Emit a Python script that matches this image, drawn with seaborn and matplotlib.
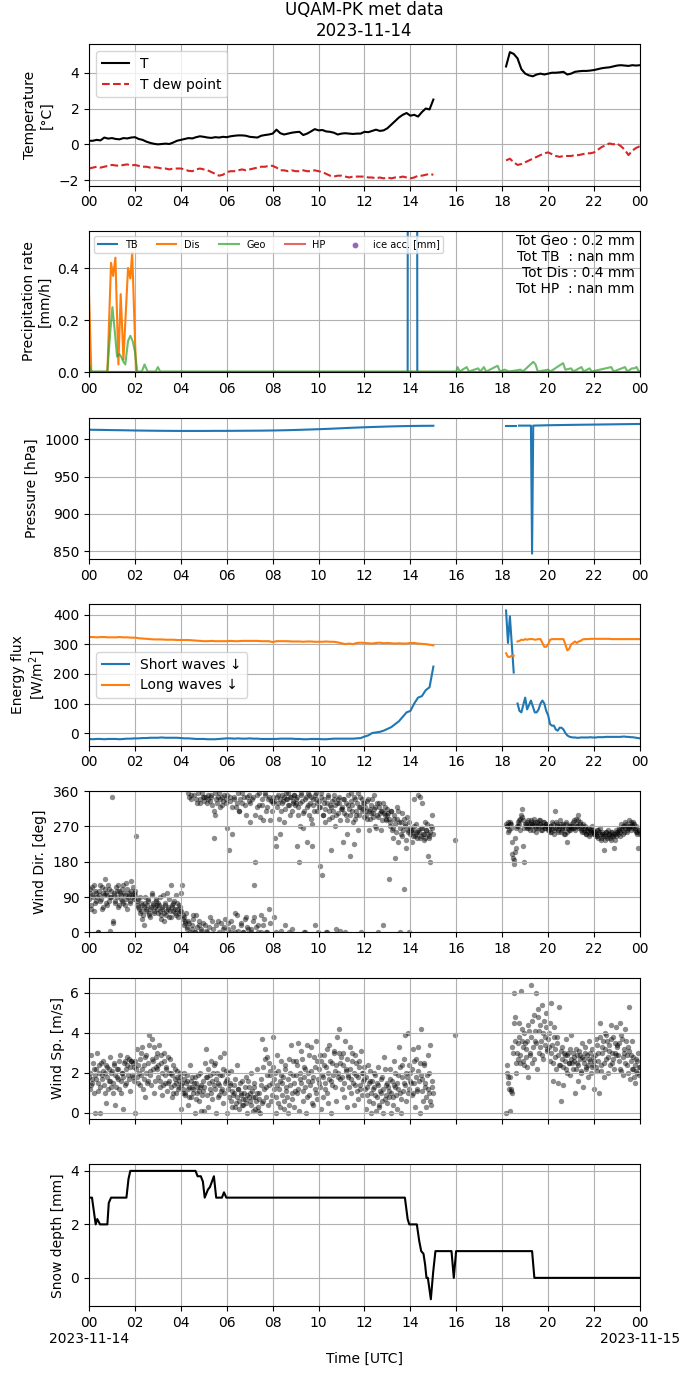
import numpy as np
import pandas as pd
import matplotlib
matplotlib.use("Agg")
import matplotlib.pyplot as plt
import seaborn as sns

DAY = pd.Timestamp("2023-11-14 00:00")
DAY_END = DAY + pd.Timedelta(days=1)

# temperature, 10 min steps, 00:00-15:00 and 18:10-24:00
t_day = [0.20, 0.20, 0.25, 0.22, 0.38, 0.32,
         0.35, 0.30, 0.28, 0.35, 0.33, 0.38,
         0.40, 0.30, 0.25, 0.15, 0.08, 0.03,
         0.00, 0.02, 0.04, 0.02, 0.10, 0.20,
         0.25, 0.30, 0.35, 0.33, 0.40, 0.45,
         0.42, 0.38, 0.36, 0.40, 0.38, 0.42,
         0.40, 0.45, 0.48, 0.50, 0.50, 0.48,
         0.42, 0.40, 0.38, 0.48, 0.52, 0.55,
         0.60, 0.82, 0.62, 0.55, 0.60, 0.65,
         0.68, 0.70, 0.52, 0.60, 0.72, 0.85,
         0.78, 0.80, 0.72, 0.70, 0.65, 0.55,
         0.60, 0.62, 0.60, 0.58, 0.60, 0.60,
         0.70, 0.68, 0.75, 0.82, 0.75, 0.78,
         0.90, 1.10, 1.30, 1.50, 1.65, 1.75,
         1.60, 1.65, 1.55, 1.80, 2.00, 1.95,
         2.50]
t_eve = [4.35, 5.15, 5.05, 4.80, 4.20,
         3.95, 3.85, 3.80, 3.90, 3.95, 3.90,
         3.95, 4.00, 4.00, 4.02, 4.05, 3.90,
         3.95, 4.05, 4.08, 4.10, 4.10, 4.12,
         4.15, 4.20, 4.25, 4.28, 4.30, 4.35,
         4.40, 4.42, 4.40, 4.38, 4.42, 4.40,
         4.42]
td_day = [-1.35, -1.30, -1.25, -1.30, -1.25, -1.20,
          -1.15, -1.18, -1.20, -1.15, -1.12, -1.18,
          -1.15, -1.20, -1.25, -1.25, -1.30, -1.28,
          -1.30, -1.35, -1.35, -1.40, -1.35, -1.35,
          -1.35, -1.40, -1.48, -1.50, -1.40, -1.35,
          -1.40, -1.45, -1.55, -1.65, -1.75, -1.70,
          -1.55, -1.50, -1.50, -1.45, -1.40, -1.45,
          -1.40, -1.35, -1.30, -1.25, -1.25, -1.20,
          -1.20, -1.30, -1.45, -1.45, -1.50, -1.45,
          -1.50, -1.50, -1.45, -1.50, -1.50, -1.45,
          -1.50, -1.55, -1.65, -1.75, -1.80, -1.75,
          -1.75, -1.80, -1.85, -1.80, -1.80, -1.80,
          -1.80, -1.85, -1.85, -1.90, -1.85, -1.90,
          -1.85, -1.90, -1.85, -1.85, -1.80, -1.85,
          -1.90, -1.85, -1.75, -1.75, -1.70, -1.65,
          -1.70]
td_eve = [-0.90, -0.80, -1.00, -1.15, -1.10,
          -1.00, -0.90, -0.80, -0.70, -0.60, -0.50,
          -0.45, -0.55, -0.65, -0.70, -0.65, -0.65,
          -0.65, -0.60, -0.60, -0.55, -0.50, -0.50,
          -0.45, -0.30, -0.15, -0.05, 0.05, 0.00,
          0.05, -0.10, -0.30, -0.60, -0.35, -0.20,
          -0.10]

# precipitation rate [mm/h], given at hours of the day
dis_hours = [0, 0.1, 0.8, 0.96, 1.05, 1.15, 1.28, 1.38, 1.5, 1.7, 1.8, 1.88, 2.05, 24]
dis_rate = [0.3, 0, 0, 0.42, 0.37, 0.44, 0.03, 0.30, 0.05, 0.40, 0.36, 0.46, 0, 0]
geo_hours = [0, 0.1, 0.8, 0.92, 1.02, 1.12, 1.22, 1.32, 1.4, 1.5, 1.58, 1.7, 1.8, 1.9,
             2.0, 2.1, 2.3, 2.42, 2.55, 2.9, 3.0, 3.1, 16.0, 16.05, 16.15, 16.45, 16.55,
             16.95, 17.05, 17.2, 17.3, 17.8, 17.9, 18.1, 18.3, 18.8, 18.9, 19.35, 19.45,
             19.55, 20.0, 20.1, 20.65, 20.75, 21.0, 21.1, 21.45, 21.55, 21.8, 21.9, 22.75,
             22.85, 23.35, 23.45, 23.65, 23.75, 23.85, 23.95, 24.0]
geo_rate = [0.03, 0.003, 0.003, 0.15, 0.25, 0.16, 0.06, 0.07, 0.06, 0.04, 0.03, 0.12, 0.14, 0.12,
            0.08, 0.003, 0.003, 0.03, 0.003, 0.003, 0.02, 0.003, 0.003, 0.02, 0.003, 0.02, 0.003,
            0.015, 0.003, 0.02, 0.003, 0.025, 0.003, 0.01, 0.003, 0.01, 0.003, 0.04, 0.03,
            0.003, 0.01, 0.003, 0.035, 0.01, 0.015, 0.003, 0.02, 0.003, 0.015, 0.003, 0.02,
            0.003, 0.02, 0.003, 0.015, 0.015, 0.02, 0.003, 0.003]
tb_hours = [0, 2.0, np.nan, 13.88, 13.9, 14.28, 14.3]
tb_rate = [0, 0, np.nan, 0, 3.0, 3.0, 0]
hp_hours = [0, 24]
hp_rate = [0, 0]
totals_text = "Tot Geo : 0.2 mm\nTot TB  : nan mm\nTot Dis : 0.4 mm\nTot HP  : nan mm"

# pressure [hPa]
press_day = [1012.5, 1012.3, 1012.0, 1011.8, 1011.5, 1011.3, 1011.1, 1011.0, 1010.9, 1010.9,
             1010.9, 1011.0, 1011.0, 1011.1, 1011.2, 1011.3, 1011.5, 1011.8, 1012.2, 1012.7,
             1013.2, 1013.8, 1014.5, 1015.2, 1015.8, 1016.3, 1016.8, 1017.2, 1017.5, 1017.7,
             1017.8]
press_eve_hours = [18.17, 18.6, np.nan, 18.73, 19.25, 19.3, 19.35, 20.0, 21.0, 22.0, 23.0, 24.0]
press_eve = [1018, 1018, np.nan, 1018, 1018, 847, 1018, 1018.5, 1019, 1019.4, 1019.8, 1020.2]

# radiation [W/m2], 10 min day, 5 min evening from 18:10
sw_day = [-20, -21, -20, -20, -21, -20,
          -20, -20, -21, -20, -19, -19,
          -18, -18, -17, -17, -16, -16,
          -16, -15, -16, -16, -16, -16,
          -17, -18, -18, -19, -20, -20,
          -20, -21, -21, -21, -20, -19,
          -18, -18, -19, -18, -19, -19,
          -18, -19, -19, -20, -20, -20,
          -20, -20, -19, -19, -19, -19,
          -20, -20, -21, -21, -20, -20,
          -20, -21, -21, -20, -19, -19,
          -19, -19, -19, -19, -18, -17,
          -12, -8, 0, 2, 4, 8,
          14, 20, 30, 40, 55, 70,
          75, 100, 120, 125, 145, 155,
          225]
lw_day = [325, 325, 324, 325, 325, 324,
          324, 324, 325, 324, 324, 323,
          323, 321, 320, 319, 318, 317,
          317, 317, 316, 316, 316, 315,
          315, 315, 315, 314, 313, 312,
          311, 311, 312, 311, 311, 311,
          311, 312, 311, 311, 312, 312,
          312, 312, 312, 311, 311, 311,
          308, 311, 311, 311, 311, 310,
          310, 310, 309, 310, 310, 309,
          309, 309, 310, 309, 309, 307,
          304, 301, 303, 301, 305, 306,
          305, 304, 303, 305, 306, 304,
          305, 304, 303, 304, 303, 303,
          305, 305, 303, 302, 301, 299,
          297]
sw_eve = [415, 305, 395, 300, 205, np.nan, 100, 75, 70, 95,
          120, 80, 95, 110, 90, 70, 70, 80, 100, 110, 100, 75,
          60, 30, 25, 25, 12, 8, 18, 18, 12, 0, -8, -12,
          -14, -15, -15, -16, -16, -15, -15, -15, -15, -15, -14, -15,
          -15, -15, -14, -14, -14, -14, -13, -13, -13, -13, -13, -13,
          -13, -13, -13, -12, -12, -13, -13, -14, -14, -15, -16, -17,
          -18]
lw_eve = [270, 258, 258, 262, 262, np.nan, 310, 312, 316, 315,
          318, 316, 318, 318, 318, 316, 317, 318, 318, 305, 292, 292,
          300, 316, 318, 318, 318, 318, 318, 318, 318, 300, 280, 285,
          300, 305, 310, 305, 310, 312, 317, 318, 318, 318, 319, 319,
          319, 319, 319, 319, 319, 319, 319, 319, 319, 318, 318, 318,
          318, 318, 318, 318, 318, 318, 318, 318, 318, 318, 318, 318,
          318]

# wind, two interleaved 3 min series (a at :00, b at +1.5 min)
# day 00:00-15:00, one sample at 15:57, evening from 18:10
wdir_day = [85, 110, 60, 95, 120, 75, 100, 90, 2, 105, 80, 115, 65, 95, 135, 100, 70, 110, 5, 90,
            345, 30, 95, 80, 105, 120, 70, 100, 85, 110, 75, 95, 125, 60, 90, 100, 80, 130, 95, 85,
            105, 245, 80, 65, 90, 55, 70, 45, 20, 75, 60, 85, 50, 40, 65, 95, 70, 55, 80, 60,
            50, 70, 90, 45, 60, 30, 75, 55, 100, 65, 40, 120, 70, 55, 80, 60, 45, 75, 50, 65,
            100, 120, 35, 40, 25, 10, 30, 345, 0, 350, 20, 45, 0, 340, 15, 355, 30, 330, 5, 345,
            335, 20, 345, 0, 340, 40, 350, 325, 10, 240, 300, 340, 30, 355, 320, 25, 345, 335, 15, 330,
            265, 10, 210, 345, 30, 250, 340, 0, 320, 45, 355, 310, 20, 330, 0, 345, 35, 300, 15, 350,
            280, 10, 340, 30, 120, 180, 320, 0, 355, 295, 45, 325, 20, 350, 310, 0, 340, 60, 285, 335,
            330, 40, 240, 220, 345, 330, 250, 310, 350, 335, 280, 20, 340, 355, 325, 300, 345, 10, 330, 350,
            340, 220, 300, 180, 330, 355, 265, 310, 0, 345, 230, 325, 350, 290, 220, 340, 310, 20, 355, 330,
            320, 170, 345, 145, 300, 330, 280, 0, 350, 310, 325, 210, 295, 340, 270, 10, 330, 305, 345, 285,
            315, 230, 340, 0, 300, 250, 325, 195, 355, 310, 280, 225, 340, 300, 260, 320, 345, 0, 310, 330,
            330, 310, 290, 340, 260, 315, 305, 295, 350, 320, 265, 300, 0, 330, 310, 285, 20, 305, 320, 290,
            300, 135, 270, 310, 260, 240, 290, 190, 320, 230, 280, 0, 250, 305, 110, 270, 215, 295, 260, 0,
            250, 230, 260, 340, 245, 275, 255, 350, 240, 265, 330, 250, 235, 280, 260, 195, 245, 180, 270, 300]
wdir_day_b = [100, 70, 115, 90, 55, 105, 80, 0, 95, 120, 85, 60, 100, 110, 75, 95, 120, 80, 90, 105,
              25, 100, 75, 115, 90, 65, 105, 95, 80, 120, 100, 70, 85, 110, 95, 75, 105, 90, 115, 100,
              95, 70, 85, 60, 50, 75, 35, 65, 90, 55, 70, 80, 45, 60, 100, 75, 50, 65, 85, 70,
              75, 55, 35, 65, 95, 50, 70, 45, 60, 85, 55, 40, 65, 75, 50, 95, 60, 40, 70, 55,
              55, 45, 20, 30, 50, 15, 355, 25, 340, 10, 35, 350, 0, 45, 330, 20, 340, 10, 355, 25,
              345, 5, 330, 350, 15, 335, 345, 30, 310, 355, 20, 330, 345, 0, 340, 325, 10, 350, 35, 340,
              350, 25, 335, 0, 320, 15, 345, 50, 330, 5, 310, 340, 25, 355, 0, 325, 40, 345, 10, 335,
              330, 0, 345, 40, 300, 15, 350, 20, 325, 0, 340, 285, 35, 355, 0, 320, 345, 25, 335, 310,
              345, 335, 0, 320, 350, 290, 340, 5, 330, 345, 315, 355, 340, 325, 0, 345, 310, 335, 350, 325,
              330, 345, 320, 270, 350, 335, 305, 0, 340, 320, 355, 300, 330, 345, 275, 325, 350, 340, 310, 0,
              335, 320, 355, 300, 340, 315, 0, 330, 345, 290, 320, 335, 310, 350, 325, 300, 340, 330, 5, 315,
              320, 340, 305, 330, 285, 350, 315, 300, 335, 325, 345, 290, 310, 330, 355, 300, 320, 340, 315, 295,
              320, 300, 335, 310, 290, 325, 340, 305, 315, 270, 330, 295, 320, 305, 260, 310, 330, 300, 285, 315,
              305, 290, 280, 310, 265, 300, 275, 255, 290, 310, 265, 280, 245, 260, 290, 275, 235, 255, 280, 265,
              260, 255, 245, 270, 250, 240, 260, 255, 345, 245, 265, 250, 240, 260, 275, 250, 240, 255, 265, 250]
wdir_late = [235]
wdir_eve = [275, 270, 255, 280, 275, 230, 190, 175, 205, 265, 270, 285, 260, 300, 315, 220, 180,
            275, 265, 285, 270, 260, 280, 275, 290, 270, 255, 280, 265, 275, 285, 260, 270, 280, 265, 275, 270,
            260, 255, 270, 280, 265, 250, 310, 275, 260, 270, 285, 255, 265, 275, 250, 280, 230, 265, 270, 260,
            275, 265, 285, 260, 290, 270, 300, 280, 265, 255, 275, 260, 270, 250, 265, 245, 260, 255, 270, 260,
            250, 245, 260, 240, 255, 265, 235, 250, 210, 245, 255, 240, 260, 250, 235, 255, 245, 215, 250, 260,
            255, 265, 245, 275, 260, 250, 270, 280, 255, 265, 285, 270, 260, 275, 280, 265, 255, 250, 215, 260]
wdir_eve_b = [270, 280, 260, 275, 265, 200, 185, 240, 215, 270, 280, 275, 290, 295, 285, 265, 275,
              270, 280, 265, 275, 285, 270, 260, 275, 280, 265, 270, 285, 275, 260, 270, 280, 265, 275, 270, 260,
              265, 270, 255, 275, 260, 265, 280, 270, 255, 265, 275, 260, 270, 250, 265, 275, 255, 260, 270, 265,
              270, 280, 265, 275, 270, 285, 265, 275, 260, 270, 255, 265, 250, 260, 255, 265, 250, 260, 255, 250,
              255, 250, 245, 260, 250, 240, 255, 245, 250, 235, 255, 245, 250, 240, 255, 245, 250, 235, 245, 255,
              250, 260, 255, 265, 270, 255, 265, 275, 260, 270, 265, 280, 270, 265, 275, 260, 270, 255, 260, 250]
wsp_day = [1.8, 1.2, 2.9, 1.5, 2.2, 0.0, 1.7, 3.0, 1.1, 2.4, 0.0, 1.9, 2.6, 1.4, 2.0, 0.5, 2.3, 1.6, 2.8, 1.3,
           2.1, 1.0, 2.5, 0.4, 1.8, 2.2, 1.2, 2.9, 1.6, 2.0, 0.2, 2.6, 1.5, 2.4, 1.9, 2.7, 1.1, 2.6, 1.8, 2.3,
           0.0, 2.2, 3.2, 1.5, 2.7, 1.9, 3.3, 1.2, 2.4, 0.8, 2.9, 1.6, 3.9, 2.1, 1.4, 3.7, 2.6, 1.0, 2.3, 3.0,
           1.8, 3.4, 1.3, 2.5, 0.9, 3.0, 1.5, 2.2, 1.1, 2.8, 1.6, 2.0, 0.8, 2.4, 1.4, 1.7, 1.0, 2.1, 1.3, 1.8,
           0.2, 1.5, 1.0, 2.0, 0.9, 1.6, 0.4, 1.3, 2.4, 0.8, 1.8, 1.2, 0.0, 1.5, 1.0, 1.9, 0.6, 1.3, 0.1, 1.1,
           0.1, 2.5, 3.2, 1.8, 0.3, 1.2, 2.6, 0.7, 2.0, 1.4, 2.5, 0.0, 1.5, 0.9, 2.8, 1.1, 1.9, 0.5, 3.0, 1.6,
           0.0, 2.0, 0.8, 1.4, 2.1, 0.3, 1.0, 1.7, 0.5, 2.4, 1.2, 0.2, 0.9, 1.6, 0.4, 1.0, 0.7, 1.8, 0.0, 1.3,
           0.6, 2.0, 1.1, 0.1, 1.5, 0.8, 2.2, 0.3, 1.0, 0.0, 1.7, 3.7, 0.6, 3.2, 1.3, 2.8, 0.4, 2.5, 1.9, 0.9,
           3.8, 1.2, 2.0, 0.0, 2.9, 0.5, 1.6, 2.6, 0.9, 1.8, 0.2, 2.2, 1.1, 0.0, 2.7, 1.4, 3.4, 0.7, 1.9, 0.3,
           2.6, 1.0, 3.5, 0.1, 1.7, 3.1, 0.6, 2.3, 1.3, 0.0, 3.4, 2.0, 0.9, 3.3, 1.6, 0.4, 2.8, 1.2, 3.6, 0.7,
           1.5, 2.9, 0.2, 1.9, 0.8, 2.4, 1.2, 3.2, 0.5, 1.7, 2.6, 0.0, 1.4, 3.0, 2.1, 0.6, 3.8, 1.8, 4.2, 2.5,
           1.2, 3.0, 0.8, 3.6, 2.2, 0.3, 1.8, 3.3, 1.0, 2.6, 1.5, 0.4, 2.9, 1.9, 0.7, 2.3, 1.4, 3.1, 0.9, 2.0,
           1.7, 0.2, 1.3, 2.4, 0.6, 1.6, 0.0, 1.2, 2.0, 0.9, 0.1, 1.5, 2.3, 0.4, 1.0, 1.8, 0.0, 2.8, 0.7, 1.4,
           0.5, 1.1, 2.2, 0.0, 1.6, 0.8, 2.6, 1.3, 0.2, 1.9, 3.3, 1.0, 0.0, 2.4, 1.5, 3.9, 0.6, 1.8, 4.0, 1.2,
           2.0, 0.9, 3.2, 1.5, 0.3, 2.7, 1.1, 3.3, 0.0, 4.2, 1.7, 0.6, 2.5, 1.3, 0.3, 2.9, 1.0, 3.4, 0.4, 1.6]
wsp_day_b = [2.0, 1.4, 1.7, 2.5, 1.0, 1.9, 2.2, 1.5, 2.0, 1.3, 2.5, 1.7, 2.1, 1.0, 2.4, 1.8, 1.2, 2.2, 1.6, 2.0,
             1.5, 2.4, 1.9, 1.3, 2.2, 1.7, 2.6, 1.0, 2.0, 1.8, 2.5, 1.4, 2.2, 2.8, 1.7, 2.3, 2.6, 1.9, 2.5, 1.6,
             2.6, 1.8, 2.4, 2.0, 1.4, 3.0, 2.2, 1.7, 2.8, 2.0, 1.5, 2.5, 3.4, 1.9, 2.7, 2.2, 3.3, 1.6, 2.8, 2.2,
             2.4, 1.6, 2.9, 2.0, 1.4, 2.6, 1.9, 2.3, 1.5, 2.0, 2.7, 1.3, 1.9, 1.0, 2.2, 1.5, 1.8, 1.2, 1.6, 2.0,
             1.4, 1.2, 1.7, 1.0, 1.5, 1.9, 1.2, 0.8, 1.6, 1.3, 1.0, 1.5, 1.8, 0.7, 1.3, 1.1, 2.0, 1.4, 0.9, 1.6,
             1.3, 1.8, 0.9, 2.2, 1.5, 1.9, 1.0, 1.6, 2.4, 1.2, 1.7, 2.0, 0.8, 1.4, 1.9, 1.2, 2.2, 1.0, 1.5, 2.1,
             1.7, 1.2, 1.5, 0.6, 1.1, 0.9, 1.4, 0.3, 0.8, 1.2, 0.6, 1.5, 1.0, 0.4, 0.7, 1.3, 0.5, 0.9, 1.6, 0.8,
             1.0, 0.4, 0.8, 1.3, 0.2, 0.6, 1.0, 0.1, 0.7, 1.4, 0.5, 2.3, 1.2, 2.7, 0.8, 1.9, 1.4, 2.1, 0.6, 1.5,
             2.3, 1.7, 0.8, 1.4, 2.1, 1.2, 0.3, 1.9, 1.5, 0.6, 2.4, 1.3, 0.8, 1.7, 0.4, 2.0, 1.0, 2.6, 1.5, 1.1,
             1.9, 2.4, 1.2, 2.0, 1.5, 2.7, 1.1, 1.8, 2.2, 0.8, 1.6, 2.9, 1.4, 2.1, 0.5, 1.8, 2.3, 1.0, 2.6, 1.7,
             2.2, 1.3, 2.6, 1.8, 2.9, 1.5, 2.3, 1.0, 2.0, 3.4, 1.6, 2.5, 1.9, 3.1, 1.3, 2.4, 2.0, 3.0, 1.7, 2.8,
             1.8, 2.4, 1.5, 2.1, 2.7, 1.9, 1.3, 2.2, 1.7, 3.0, 2.0, 1.4, 2.5, 1.1, 1.8, 2.6, 1.2, 2.0, 1.6, 2.3,
             1.2, 1.8, 0.9, 1.5, 2.1, 1.0, 1.6, 0.5, 1.3, 1.9, 0.8, 1.4, 0.3, 1.1, 1.7, 0.6, 1.2, 2.2, 0.9, 1.5,
             1.3, 0.8, 1.7, 1.0, 0.4, 1.4, 2.0, 0.9, 1.5, 1.2, 2.3, 0.7, 1.8, 1.1, 2.7, 1.4, 2.0, 1.0, 2.4, 1.6,
             1.5, 2.2, 1.0, 2.6, 1.8, 1.2, 2.1, 1.6, 2.5, 1.9, 1.1, 2.4, 1.5, 0.8, 1.9, 1.2, 2.0, 0.6, 1.3, 1.0]
wsp_late = [3.9]
wsp_eve = [0.0, 2.4, 1.8, 0.1, 1.2, 1.0, 3.0, 6.0, 4.8, 2.0, 3.5, 4.5, 2.9, 6.1, 3.6, 2.6, 4.0,
           3.2, 2.3, 1.8, 4.1, 3.0, 6.4, 2.5, 4.9, 3.6, 6.0, 2.2, 5.2, 4.1, 3.3, 5.4, 2.7, 4.6, 3.8, 5.0, 3.1,
           4.0, 2.6, 5.5, 3.4, 1.6, 4.3, 2.8, 3.8, 1.5, 5.3, 2.4, 0.6, 3.3, 1.4, 2.9, 3.7, 2.0, 3.0, 2.5, 1.9,
           3.9, 2.2, 2.8, 1.0, 3.2, 2.5, 1.6, 2.9, 2.1, 3.5, 1.3, 2.7, 3.0, 2.3, 1.8, 3.6, 2.6, 2.0, 3.2, 2.4,
           1.2, 3.7, 2.1, 3.0, 1.0, 4.5, 2.4, 3.3, 1.8, 4.0, 2.7, 3.6, 2.0, 3.1, 4.4, 2.5, 3.8, 2.2, 3.0, 4.3,
           3.4, 2.6, 4.5, 2.1, 3.7, 1.9, 3.0, 4.2, 2.4, 3.3, 5.3, 1.7, 2.9, 3.6, 2.2, 1.5, 2.7, 2.0, 3.0, 2.3]
wsp_eve_b = [2.0, 1.5, 1.2, 1.8, 1.1, 3.3, 4.5, 3.6, 2.5, 3.0, 2.7, 3.8, 2.5, 4.2, 3.3, 2.4, 3.5,
             2.8, 3.6, 4.4, 2.9, 3.8, 4.6, 3.3, 2.7, 4.1, 3.5, 4.8, 3.0, 4.4, 3.6, 2.9, 4.0, 3.4, 4.3, 3.2, 3.7,
             3.3, 4.5, 3.0, 2.5, 3.8, 3.2, 2.2, 3.5, 2.9, 2.4, 3.1, 2.7, 2.3, 3.0, 2.6, 2.2, 2.9, 2.5, 3.2, 2.7,
             2.5, 3.0, 2.6, 2.2, 2.9, 2.4, 3.1, 2.7, 2.0, 2.8, 2.5, 3.3, 2.2, 2.9, 2.4, 2.7, 3.0, 2.3, 2.8, 2.6,
             2.9, 2.3, 3.4, 2.6, 3.8, 2.1, 3.0, 3.6, 2.5, 3.2, 3.9, 2.8, 3.4, 2.4, 3.7, 3.0, 2.7, 3.5, 2.9, 3.3,
             2.9, 3.5, 2.2, 3.9, 2.8, 3.2, 2.5, 3.6, 2.9, 2.0, 3.1, 2.6, 2.2, 2.8, 1.8, 2.4, 2.1, 2.6, 1.9, 2.3]

# snow depth [mm]
snow_hours = [0, 0.13, 0.29, 0.36, 0.48, 0.8, 0.86, 0.96, 1.63, 1.72, 1.8, 4.64, 4.73, 4.87,
              4.96, 5.04, 5.18, 5.27, 5.44, 5.54, 5.79, 5.88, 5.98, 13.76, 13.88, 13.95, 14.28,
              14.38, 14.47, 14.57, 14.64, 14.7, 14.76, 14.89, 14.99, 15.09, 15.79, 15.89, 15.99,
              19.3, 19.4, 24.0]
snow_depth = [3, 3, 2, 2.2, 2, 2, 2.8, 3, 3, 3.7, 4, 4, 3.8, 3.8,
              3.6, 3.0, 3.3, 3.4, 3.8, 3.0, 3.0, 3.2, 3.0, 3.0, 2.2, 2.0, 2.0,
              1.4, 1.0, 0.9, 0.5, 0.0, 0.0, -0.8, 0.2, 1.0, 1.0, 0.0, 1.0,
              1.0, 0.0, 0.0]


def at_hours(hours):
    return DAY + pd.to_timedelta(pd.Series(hours, dtype=float), unit="h")


def steps(start, minutes, values):
    return pd.date_range(start, periods=len(values), freq=f"{minutes}min")


def draw_line(ax, times, values, label=None, **kw):
    s = pd.Series(np.asarray(values, dtype=float), index=pd.DatetimeIndex(times))
    first = True
    for _, seg in s.groupby(s.isna().cumsum()):
        seg = seg.dropna()
        if len(seg) == 0:
            continue
        ax.plot(seg.index, seg.values, label=label if first else None, **kw)
        first = False


def draw_points(ax, times, values):
    sns.scatterplot(x=pd.DatetimeIndex(times), y=values, ax=ax, color="k",
                    alpha=0.45, s=15, linewidth=0)


fig, axes = plt.subplots(7, 1, figsize=(6.9, 13.77), dpi=100)
fig.subplots_adjust(left=0.129, right=0.9275, top=0.968, bottom=0.0516, hspace=0.32)

# temperature
ax = axes[0]
draw_line(ax, steps(DAY, 10, t_day), t_day, label="T", color="k")
draw_line(ax, steps("2023-11-14 18:10", 10, t_eve), t_eve, color="k")
draw_line(ax, steps(DAY, 10, td_day), td_day, label="T dew point", color="tab:red", ls="--")
draw_line(ax, steps("2023-11-14 18:10", 10, td_eve), td_eve, color="tab:red", ls="--")
ax.set_ylim(-2.3, 5.6)
ax.set_ylabel("Temperature\n[°C]")
ax.legend(loc="upper left")
ax.set_title("UQAM-PK met data\n2023-11-14")

# precipitation
ax = axes[1]
draw_line(ax, at_hours(tb_hours), tb_rate, label="TB", color="tab:blue")
draw_line(ax, at_hours(dis_hours), dis_rate, label="Dis", color="tab:orange")
draw_line(ax, at_hours(geo_hours), geo_rate, label="Geo", color="tab:green", alpha=0.7)
draw_line(ax, at_hours(hp_hours), hp_rate, label="HP", color="tab:red", alpha=0.7)
ax.scatter([], [], color="tab:purple", s=10, label="ice acc. [mm]")
ax.set_ylim(0, 0.543)
ax.set_ylabel("Precipitation rate\n[mm/h]")
ax.legend(loc="upper left", ncol=5, fontsize=7)
ax.text(0.99, 0.98, totals_text, transform=ax.transAxes, ha="right", va="top",
        multialignment="right", fontsize=10)

# pressure
ax = axes[2]
draw_line(ax, steps(DAY, 30, press_day), press_day, color="tab:blue")
draw_line(ax, at_hours(press_eve_hours), press_eve, color="tab:blue")
ax.set_ylim(839.8, 1028.8)
ax.set_ylabel("Pressure [hPa]")

# radiation
ax = axes[3]
draw_line(ax, steps(DAY, 10, sw_day), sw_day, label="Short waves ↓", color="tab:blue")
draw_line(ax, steps("2023-11-14 18:10", 5, sw_eve), sw_eve, color="tab:blue")
draw_line(ax, steps(DAY, 10, lw_day), lw_day, label="Long waves ↓", color="tab:orange")
draw_line(ax, steps("2023-11-14 18:10", 5, lw_eve), lw_eve, color="tab:orange")
ax.set_ylim(-43, 436)
ax.set_ylabel("Energy flux\n[W/m$^2$]")
ax.legend(loc="center left")

# wind direction
ax = axes[4]
draw_points(ax, steps(DAY, 3, wdir_day), wdir_day)
draw_points(ax, steps("2023-11-14 00:01:30", 3, wdir_day_b), wdir_day_b)
draw_points(ax, steps("2023-11-14 15:57", 3, wdir_late), wdir_late)
draw_points(ax, steps("2023-11-14 18:10", 3, wdir_eve), wdir_eve)
draw_points(ax, steps("2023-11-14 18:11:30", 3, wdir_eve_b), wdir_eve_b)
ax.set_ylim(0, 360)
ax.set_yticks([0, 90, 180, 270, 360])
ax.set_ylabel("Wind Dir. [deg]")
ax.set_xlabel("")

# wind speed
ax = axes[5]
draw_points(ax, steps(DAY, 3, wsp_day), wsp_day)
draw_points(ax, steps("2023-11-14 00:01:30", 3, wsp_day_b), wsp_day_b)
draw_points(ax, steps("2023-11-14 15:57", 3, wsp_late), wsp_late)
draw_points(ax, steps("2023-11-14 18:10", 3, wsp_eve), wsp_eve)
draw_points(ax, steps("2023-11-14 18:11:30", 3, wsp_eve_b), wsp_eve_b)
ax.set_ylim(-0.32, 6.76)
ax.set_yticks([0, 2, 4, 6])
ax.set_ylabel("Wind Sp. [m/s]")
ax.set_xlabel("")

# snow depth
ax = axes[6]
draw_line(ax, at_hours(snow_hours), snow_depth, color="k")
ax.set_ylim(-1.05, 4.24)
ax.set_yticks([0, 2, 4])
ax.set_ylabel("Snow depth [mm]")
ax.set_xlabel("Time [UTC]")

ticks = pd.date_range(DAY, DAY_END, freq="2h")
hour_labels = [t.strftime("%H") for t in ticks]
for i, ax in enumerate(axes):
    ax.set_xlim(DAY, DAY_END)
    ax.set_xticks(ticks)
    if i == 5:
        ax.set_xticklabels([])
    elif i == 6:
        labels = list(hour_labels)
        labels[0] = "00\n" + DAY.strftime("%Y-%m-%d")
        labels[-1] = "00\n" + DAY_END.strftime("%Y-%m-%d")
        ax.set_xticklabels(labels)
    else:
        ax.set_xticklabels(hour_labels)
    ax.grid(True)

fig.savefig("out.png", dpi=100)
